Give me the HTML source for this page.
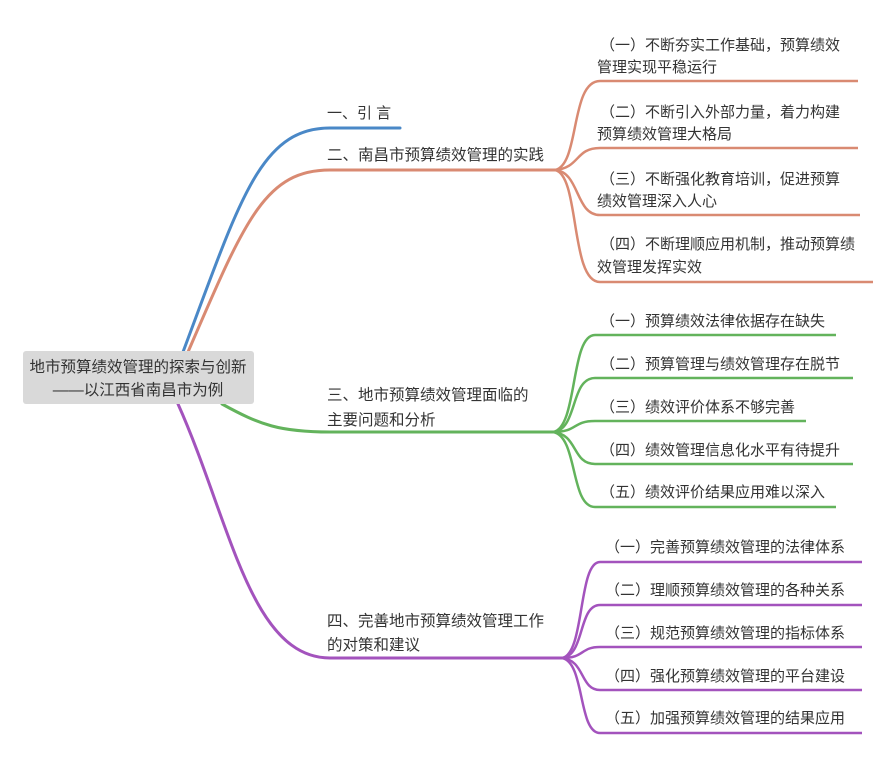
<!DOCTYPE html>
<html><head><meta charset="utf-8"><style>
html,body{margin:0;padding:0;background:#fff;}
svg{display:block;}
text{font-family:"Liberation Sans","Noto Sans CJK SC",sans-serif;font-size:15px;fill:#333;}
</style></head><body>
<svg width="877" height="763" viewBox="0 0 877 763" xmlns="http://www.w3.org/2000/svg">
<g fill="none" stroke-width="3" stroke-linecap="round">
<path d="M183 352 C240 200 260 128 330 128 L400 128" stroke="#4a88c7"/>
<path d="M188 352 C245 220 265 170 330 170 L555 170" stroke="#d98a72"/>
<path d="M222 404 C260 425 280 432 330 432 L553 432" stroke="#63b35c"/>
<path d="M178 404 C230 520 250 658 330 658 L562 658" stroke="#a353bd"/>
</g>
<g fill="none" stroke-width="2.5" stroke="#d98a72">
<path d="M555 170 C580 165 570 81 600 81 L858 81"/>
<path d="M555 170 C580 168 575 148 600 148 L858 148"/>
<path d="M555 170 C580 172 575 215 600 215 L860 215"/>
<path d="M555 170 C580 175 570 282 600 282 L873 282"/>
</g>
<g fill="none" stroke-width="2.5" stroke="#63b35c">
<path d="M553 432 C578 428 570 335 595 335 L836 335"/>
<path d="M553 432 C578 430 570 378 595 378 L853 378"/>
<path d="M553 432 C578 432 572 421 595 421 L806 421"/>
<path d="M553 432 C578 434 572 464 595 464 L853 464"/>
<path d="M553 432 C578 436 570 507 595 507 L836 507"/>
</g>
<g fill="none" stroke-width="2.5" stroke="#a353bd">
<path d="M562 658 C585 654 578 562 600 562 L862 562"/>
<path d="M562 658 C585 656 578 605 600 605 L862 605"/>
<path d="M562 658 C585 658 580 647 600 647 L862 647"/>
<path d="M562 658 C585 660 580 690 600 690 L862 690"/>
<path d="M562 658 C585 662 578 733 600 733 L862 733"/>
</g>
<rect x="23" y="351" width="231" height="53" rx="3" fill="#d9d9d9"/>
<text x="138" y="372" text-anchor="middle" style="font-size:15.5px">地市预算绩效管理的探索与创新</text>
<text x="138" y="395" text-anchor="middle" style="font-size:15.5px">——以江西省南昌市为例</text>
<text x="327" y="118">一、引 言</text>
<text x="327" y="160" style="font-size:15.5px">二、南昌市预算绩效管理的实践</text>
<text x="327" y="400" style="font-size:15.5px">三、地市预算绩效管理面临的</text>
<text x="327" y="425" style="font-size:15.5px">主要问题和分析</text>
<text x="327" y="626" style="font-size:15.5px">四、完善地市预算绩效管理工作</text>
<text x="327" y="650" style="font-size:15.5px">的对策和建议</text>
<text x="600" y="50">（一）不断夯实工作基础，预算绩效</text>
<text x="597" y="72">管理实现平稳运行</text>
<text x="600" y="117">（二）不断引入外部力量，着力构建</text>
<text x="597" y="139">预算绩效管理大格局</text>
<text x="600" y="184">（三）不断强化教育培训，促进预算</text>
<text x="597" y="206">绩效管理深入人心</text>
<text x="600" y="249">（四）不断理顺应用机制，推动预算绩</text>
<text x="597" y="272">效管理发挥实效</text>
<text x="600" y="326">（一）预算绩效法律依据存在缺失</text>
<text x="600" y="369">（二）预算管理与绩效管理存在脱节</text>
<text x="600" y="412">（三）绩效评价体系不够完善</text>
<text x="600" y="455">（四）绩效管理信息化水平有待提升</text>
<text x="600" y="497">（五）绩效评价结果应用难以深入</text>
<text x="605" y="552">（一）完善预算绩效管理的法律体系</text>
<text x="605" y="595">（二）理顺预算绩效管理的各种关系</text>
<text x="605" y="638">（三）规范预算绩效管理的指标体系</text>
<text x="605" y="681">（四）强化预算绩效管理的平台建设</text>
<text x="605" y="723">（五）加强预算绩效管理的结果应用</text>
</svg>
</body></html>
